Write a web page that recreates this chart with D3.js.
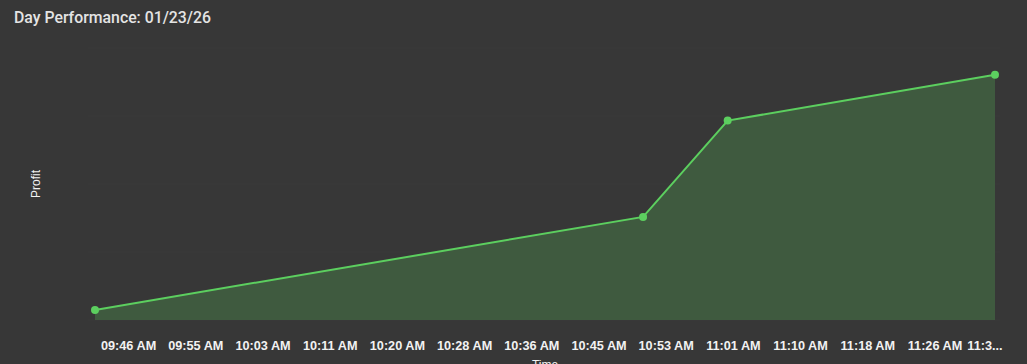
<!DOCTYPE html>
<html>
<head>
<meta charset="utf-8">
<script src="https://cdn.jsdelivr.net/npm/d3@7"></script>
<style>
  html, body { margin: 0; padding: 0; background: #373737; overflow: hidden; }
  svg { display: block; }
</style>
</head>
<body>
<div id="visual-container"></div>
<script>
// chart data
const pointTimes = ['09:46:00', '10:54:00', '11:04:30', '11:37:40']
const profits = [3.7, 37.9, 73.3, 90.2]
const tickLabels = ['09:46 AM', '09:55 AM', '10:03 AM', '10:11 AM', '10:20 AM', '10:28 AM',
  '10:36 AM', '10:45 AM', '10:53 AM', '11:01 AM', '11:10 AM', '11:18 AM', '11:26 AM', '11:3...']
const gridValues = [0, 25, 50, 75, 100]

let width = 1027
let height = 364
const plotLeft = 95
const plotRight = 995
const plotTop = 48
const plotBottom = 320

const parseTime = d3.timeParse('%H:%M:%S')
const data = pointTimes.map((t, i) => ({ time: parseTime(t), profit: profits[i] }))

const svg = d3.select('#visual-container')
  .append('svg')
  .attr('width', width)
  .attr('height', height)

svg.append('rect')
  .attr('width', width)
  .attr('height', height)
  .attr('fill', '#373737')

const xScale = d3.scaleTime()
  .domain(d3.extent(data, d => d.time))
  .range([plotLeft, plotRight])

const yScale = d3.scaleLinear()
  .domain([0, 100])
  .range([plotBottom, plotTop])

// tick labels sit in equal slots along the bottom
const tickScale = d3.scaleBand()
  .domain(tickLabels)
  .range([plotLeft, plotLeft + 67.2 * tickLabels.length])

// faint gridlines
svg.append('g')
  .selectAll('line')
  .data(gridValues)
  .enter()
  .append('line')
  .attr('x1', 88)
  .attr('x2', 1000)
  .attr('y1', d => yScale(d))
  .attr('y2', d => yScale(d))
  .attr('stroke', '#3b3b3b')
  .attr('stroke-width', 1)

const area = d3.area()
  .x(d => xScale(d.time))
  .y0(yScale(0))
  .y1(d => yScale(d.profit))

const line = d3.line()
  .x(d => xScale(d.time))
  .y(d => yScale(d.profit))

svg.append('path')
  .datum(data)
  .attr('d', area)
  .attr('fill', '#3f5a3f')

svg.append('path')
  .datum(data)
  .attr('d', line)
  .attr('fill', 'none')
  .attr('stroke', '#5ccf5f')
  .attr('stroke-width', 2)

svg.selectAll('circle')
  .data(data)
  .enter()
  .append('circle')
  .attr('cx', d => xScale(d.time))
  .attr('cy', d => yScale(d.profit))
  .attr('r', 4)
  .attr('fill', '#5ccf5f')

// x tick labels (the last one is squeezed in against the right edge)
svg.append('g')
  .selectAll('text')
  .data(tickLabels)
  .enter()
  .append('text')
  .attr('x', d => Math.min(tickScale(d) + tickScale.bandwidth() / 2, width - 42))
  .attr('y', 350)
  .attr('text-anchor', 'middle')
  .attr('fill', '#f2f2f2')
  .style('font', 'bold 12.7px "Liberation Sans", Arial, sans-serif')
  .text(d => d)

// title
svg.append('text')
  .attr('x', 14)
  .attr('y', 23)
  .attr('fill', '#e4e4e4')
  .style('font', '500 17px Roboto, sans-serif')
  .attr('textLength', 197)
  .attr('lengthAdjust', 'spacingAndGlyphs')
  .text('Day Performance: 01/23/26')

// axis titles
svg.append('text')
  .attr('transform', 'translate(40, 184) rotate(-90)')
  .attr('text-anchor', 'middle')
  .attr('fill', '#f2f2f2')
  .style('font', '12px "Liberation Sans", Arial, sans-serif')
  .text('Profit')

svg.append('text')
  .attr('x', 545)
  .attr('y', 369)
  .attr('text-anchor', 'middle')
  .attr('fill', '#f2f2f2')
  .style('font', '12px "Liberation Sans", Arial, sans-serif')
  .text('Time')
</script>
</body>
</html>
